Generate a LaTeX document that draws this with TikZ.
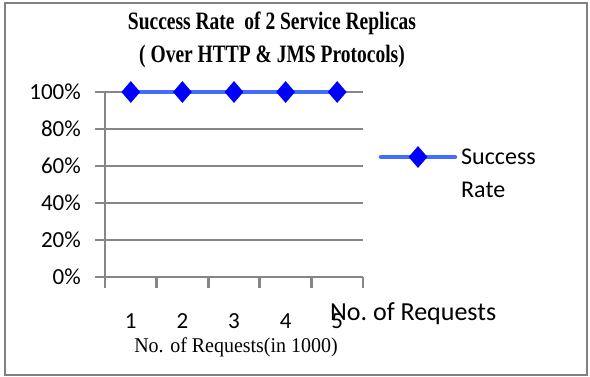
\documentclass[tikz,border=0pt]{standalone}
\usepackage{fontspec}
\setmainfont{Liberation Serif}
\newfontfamily\calibri{Carlito}
\usetikzlibrary{shapes.geometric}
\definecolor{seriesblue}{RGB}{66,110,255}

\begin{document}
\begin{tikzpicture}[x=1pt,y=-1pt,
  gridline/.style={draw=gray!95,line width=2.8pt},
  dataline/.style={draw=seriesblue,line width=4.5pt},
  diamondmark/.style={diamond,fill=blue,inner sep=0pt,minimum width=19pt,minimum height=22pt},
  ticklabel/.style={font=\calibri\fontsize{23}{27}\selectfont,inner sep=0pt},
  serifbig/.style={font=\fontsize{21}{25}\selectfont,inner sep=0pt}]
  \useasboundingbox (0,0) rectangle (590,377);
  \draw [gray,line width=1.5pt] (5,3) rectangle (587,375);
  % title
  \node [font=\bfseries\fontsize{25}{33}\selectfont,align=center,xscale=0.78,inner sep=0pt] (title) at (272,40)
    {Success Rate~~of~2 Service Replicas\\( Over HTTP \& JMS Protocols)};
  % grid and y labels
  \foreach \p [count=\i from 0] in {0\%,20\%,40\%,60\%,80\%,100\%} {
    \coordinate (g\i) at (95,277-37*\i);
    \draw [gridline] (g\i) -- +(268,0);
    \node [ticklabel,anchor=east] (y\i) at (81,277-37*\i) {\p};
  }
  \coordinate (axtop) at (105,92);
  \coordinate (axbot) at (105,288);
  \draw [gridline] (axtop) -- (axbot);
  \foreach \i in {1,...,5}
    \draw [gridline] (105+51.6*\i,277) -- +(0,11);
  % data
  \foreach \i in {1,...,5} \coordinate (d\i) at (79.2+51.6*\i,92);
  \draw [dataline] (d1) -- (d2) -- (d3) -- (d4) -- (d5);
  \foreach \i in {1,...,5} {
    \node [diamondmark] (m\i) at (d\i) {};
    \node [ticklabel] (x\i) at (79.2+51.6*\i,321) {\i};
  }
  \node [serifbig,xscale=0.95] (xlabel) at (236,347) {No. of Requests(in 1000)};
  \node [font=\calibri\fontsize{26}{30}\selectfont,inner sep=0pt,anchor=west] (xname) at (330,314) {No.\hspace{-2pt} of Requests};
  % legend
  \coordinate (la) at (381,157);
  \coordinate (lb) at (455,157);
  \draw [dataline,line cap=round] (la) -- (lb);
  \node [diamondmark] (lm) at (418,157) {};
  \node [anchor=west,align=left,inner sep=0pt,font=\calibri\fontsize{24}{33}\selectfont] (ltext) at (461,173) {Success\\Rate};
\end{tikzpicture}
\end{document}
